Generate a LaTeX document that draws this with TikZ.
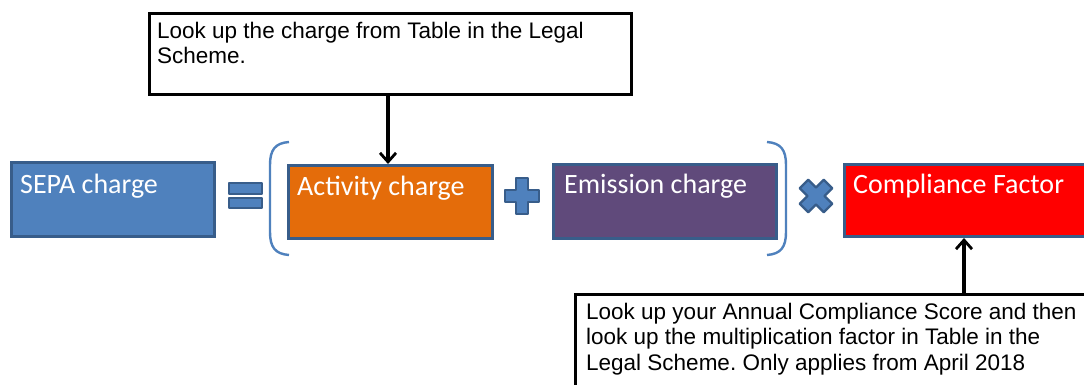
\documentclass[tikz,border=0pt]{standalone}
\usepackage{fontspec}
\setmainfont{Liberation Sans}
\newfontfamily\calib{Carlito}
\usetikzlibrary{arrows.meta,calc}
\frenchspacing
\definecolor{obluefill}{HTML}{4F81BD}
\definecolor{oblueline}{HTML}{385D8A}
\definecolor{oorange}{HTML}{E46C0A}
\definecolor{opurple}{HTML}{604A7B}
\definecolor{ored}{HTML}{FF0000}
\tikzset{
  colbox/.style={draw=oblueline, line width=3pt, rectangle, anchor=north west, inner sep=0pt},
  boxtext/.style={anchor=base west, inner sep=0pt, text=white, font=\calib\fontsize{28}{32}\selectfont},
  callout/.style={draw=black, fill=white, line width=3pt, rectangle, anchor=north west, inner sep=0pt},
  calltext/.style={anchor=north west, inner sep=0pt, align=left, font=\frenchspacing\fontsize{22.5}{25.5}\selectfont},
  opsym/.style={fill=obluefill, draw=oblueline, line width=2.2pt, line join=round},
  bracket/.style={draw=obluefill, line width=2.4pt},
  pointer/.style={draw=black, line width=3.2pt, -{Straight Barb[length=9pt,width=16pt,line width=2.8pt]}}
}
\begin{document}
\begin{tikzpicture}[x=1pt,y=-1pt]
\clip (0,0) rectangle (1084,385);
\fill[white] (0,0) rectangle (1084,385);
% coloured boxes
\node[colbox, fill=obluefill, minimum width=203pt, minimum height=74pt] (sepa) at (10,161) {};
\node[boxtext] (sepat) at ($(sepa.north west)+(10,32)$) {SEPA charge};
\node[colbox, fill=oorange, minimum width=204pt, minimum height=73pt] (act) at (287,164) {};
\node[boxtext] (actt) at ($(act.north west)+(10,31)$) {Activity charge};
\node[colbox, fill=opurple, minimum width=223pt, minimum height=74pt] (emi) at (552,163) {};
\node[boxtext] (emit) at ($(emi.north west)+(12,30)$) {Emission charge};
\node[colbox, fill=ored, minimum width=250pt, minimum height=72pt] (comp) at (843,163) {};
\node[boxtext] (compt) at ($(comp.north west)+(10,30)$) {Compliance Factor};
% equals
\draw[opsym] (229,183) rectangle (262,194);
\draw[opsym] (229,198) rectangle (262,208);
% plus
\draw[opsym] (516,178) -- (528,178) -- (528,190) -- (539,190) -- (539,202) -- (528,202) -- (528,214) -- (516,214) -- (516,202) -- (505,202) -- (505,190) -- (516,190) -- cycle;
% times
\begin{scope}[shift={(816,196)}, rotate=45]
\draw[opsym] (-6,-17) -- (6,-17) -- (6,-6) -- (17,-6) -- (17,6) -- (6,6) -- (6,17) -- (-6,17) -- (-6,6) -- (-17,6) -- (-17,-6) -- (-6,-6) -- cycle;
\end{scope}
% brackets
\draw[bracket] (289,142) .. controls (275,143) and (270,150) .. (270,165) -- (270,232) .. controls (270,247) and (275,254) .. (289,255);
\draw[bracket] (767,142) .. controls (781,143) and (786,150) .. (786,165) -- (786,232) .. controls (786,247) and (781,254) .. (767,255);
% callouts
\node[callout, minimum width=482pt, minimum height=81pt] (top) at (148,12) {};
\node[calltext] (topt) at ($(top.north west)+(9,9.5)$) {Look up the charge from Table in the Legal\\Scheme.};
\node[callout, minimum width=530pt, minimum height=120pt] (bot) at (574,293) {};
\node[calltext] (bott) at ($(bot.north west)+(12,9.5)$) {Look up your Annual Compliance Score and then\\look up the multiplication factor in Table in the\\Legal Scheme. Only applies from April 2018};
% pointers
\coordinate (topanch) at (388,93);
\draw[pointer] (top.south -| topanch) -- (act.north -| topanch);
\coordinate (botanch) at (964,293);
\draw[pointer] (bot.north -| botanch) -- (comp.south -| botanch);
\end{tikzpicture}
\end{document}
